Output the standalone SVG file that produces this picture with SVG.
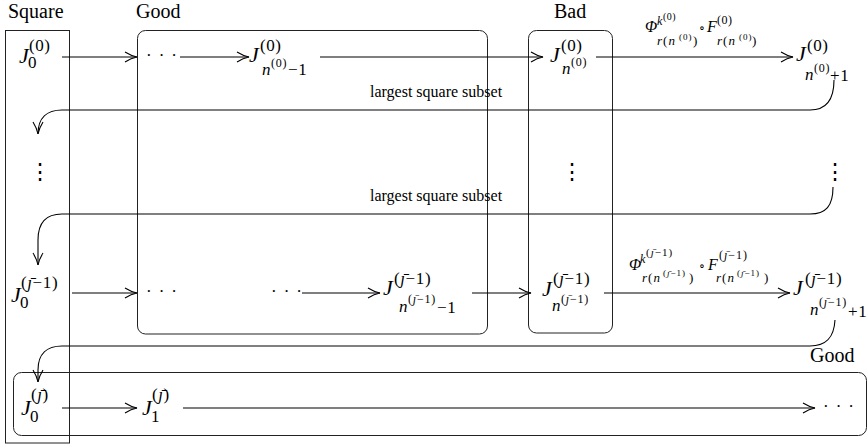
<svg xmlns="http://www.w3.org/2000/svg" width="868" height="448" viewBox="0 0 868 448">
<style>
text { font-family: "Liberation Serif", "DejaVu Serif", serif; fill: #000; }
.h { font-size: 20px; }
.lab { font-size: 16px; }
.J { font-size: 22px; font-style: italic; }
.s { font-size: 17px; letter-spacing: 0.6px; }
.ss { font-size: 12px; letter-spacing: 0.8px; }
.i { font-style: italic; }
.box { fill: none; stroke: #222; stroke-width: 1; }
.c { fill: none; stroke: #000; stroke-width: 1.1; }
.dots { font-size: 17px; letter-spacing: 7px; }
.vd { font-size: 22px; font-family: "DejaVu Serif", serif; }
.L16 { font-size: 16px; font-style: italic; }
.L12 { font-size: 12px; }
.L13 { font-size: 13px; letter-spacing: 1px; }
.L9 { font-size: 9px; letter-spacing: 1px; }
</style>
<defs>
<marker id="ah" viewBox="-13 -6 14 12" refX="0" refY="0" markerWidth="14" markerHeight="12" markerUnits="userSpaceOnUse" orient="auto">
<path d="M-12,-5 C-8,-2.5 -3,-0.6 0,0 C-3,0.6 -8,2.5 -12,5" fill="none" stroke="#000" stroke-width="1.1"/>
</marker>
</defs>

<g id="groups">
<g id="square-box"><rect class="box" x="5.5" y="30.5" width="64" height="412.5"/><text class="h" x="8" y="18">Square</text></g>
<g id="good-box"><rect class="box" x="137.5" y="30.5" width="350" height="303.5" rx="8"/><text class="h" x="136" y="18">Good</text></g>
<g id="bad-box"><rect class="box" x="528.5" y="30.5" width="84" height="302.5" rx="8"/><text class="h" x="554" y="18">Bad</text></g>
<g id="good-box-2"><rect class="box" x="13.5" y="372.5" width="853" height="63" rx="8"/><text class="h" x="810" y="362">Good</text></g>
</g>

<g id="connectors">
<line class="c" x1="62" y1="57" x2="137" y2="57" marker-end="url(#ah)"/>
<line class="c" x1="180" y1="57" x2="249" y2="57" marker-end="url(#ah)"/>
<line class="c" x1="320" y1="57" x2="543" y2="57" marker-end="url(#ah)"/>
<line class="c" x1="596" y1="57" x2="793" y2="57" marker-end="url(#ah)"/>
<line class="c" x1="72" y1="293" x2="137" y2="293" marker-end="url(#ah)"/>
<line class="c" x1="302" y1="293" x2="380" y2="293" marker-end="url(#ah)"/>
<line class="c" x1="472" y1="293" x2="531" y2="293" marker-end="url(#ah)"/>
<line class="c" x1="604" y1="293" x2="790" y2="293" marker-end="url(#ah)"/>
<line class="c" x1="62" y1="408" x2="137" y2="408" marker-end="url(#ah)"/>
<line class="c" x1="183" y1="408" x2="815" y2="408" marker-end="url(#ah)"/>
<path class="c" d="M834,80 C834,100 826,110 810,110 L62,110 C47,110 38,118 38,134" marker-end="url(#ah)"/>
<path class="c" d="M833,187 C833,206 826,214 810,214 L62,214 C47,214 38,222 38,240 L38,265" marker-end="url(#ah)"/>
<path class="c" d="M835,320 C834,338 826,346 810,346 L62,346 C47,346 38,354 38,370 L38,382" marker-end="url(#ah)"/>
<text class="lab" x="370" y="97">largest square subset</text>
<text class="lab" x="370" y="201">largest square subset</text>
<text><tspan class="L16" x="645" y="32">Φ</tspan><tspan class="i" x="657" y="25" font-size="12">k</tspan><tspan x="663" y="20" font-size="10" letter-spacing="0.5">(0)</tspan><tspan class="L13" x="657" y="45"><tspan class="i">r</tspan>(<tspan class="i">n</tspan></tspan><tspan class="L9" x="679" y="40">(0)</tspan><tspan class="L13" x="693" y="45">)</tspan><tspan class="L12" x="699" y="32">∘</tspan><tspan class="L16" x="707" y="32">F</tspan><tspan x="717" y="24" font-size="12" letter-spacing="0.5">(0)</tspan><tspan class="L13" x="717" y="45"><tspan class="i">r</tspan>(<tspan class="i">n</tspan></tspan><tspan class="L9" x="739" y="40">(0)</tspan><tspan class="L13" x="752" y="45">)</tspan></text>
<text><tspan class="L16" x="629" y="270">Φ</tspan><tspan class="i" x="640" y="263" font-size="12">k</tspan><tspan x="646" y="256" font-size="11" letter-spacing="1">(<tspan class="i">ȷ̄</tspan>−1)</tspan><tspan class="L13" x="642" y="282"><tspan class="i">r</tspan>(<tspan class="i">n</tspan></tspan><tspan class="L9" x="663" y="276">(<tspan class="i">ȷ̄</tspan>−1)</tspan><tspan class="L13" x="689" y="282">)</tspan><tspan class="L12" x="699" y="270">∘</tspan><tspan class="L16" x="708" y="270">F</tspan><tspan x="719" y="259" font-size="12" letter-spacing="1">(<tspan class="i">ȷ̄</tspan>−1)</tspan><tspan class="L13" x="716" y="282"><tspan class="i">r</tspan>(<tspan class="i">n</tspan></tspan><tspan class="L9" x="737" y="276">(<tspan class="i">ȷ̄</tspan>−1)</tspan><tspan class="L13" x="764" y="282">)</tspan></text>
</g>

<g id="n-r1-0"><text><tspan class="J" x="19" y="63">J</tspan><tspan class="s" x="29" y="51">(0)</tspan><tspan class="s" x="28" y="68">0</tspan></text></g>
<g id="n-r1-dots"><text class="dots" x="146" y="61">···</text></g>
<g id="n-r1-nm1"><text><tspan class="J" x="249" y="62">J</tspan><tspan class="s" x="260" y="51">(0)</tspan><tspan class="s i" x="262" y="75">n</tspan><tspan class="ss" x="271" y="67">(0)</tspan><tspan class="s" x="288" y="75">−1</tspan></text></g>
<g id="n-r1-n"><text><tspan class="J" x="550" y="62">J</tspan><tspan class="s" x="561" y="51">(0)</tspan><tspan class="s i" x="562" y="74">n</tspan><tspan class="ss" x="571" y="66">(0)</tspan></text></g>
<g id="n-r1-np1"><text><tspan class="J" x="796" y="61">J</tspan><tspan class="s" x="807" y="51">(0)</tspan><tspan class="s i" x="805" y="80">n</tspan><tspan class="ss" x="814" y="72">(0)</tspan><tspan class="s" x="830" y="81">+1</tspan></text></g>

<g id="n-r-vdots1"><text class="vd" x="29" y="179">⋮</text></g>
<g id="n-r-vdots2"><text class="vd" x="561" y="179">⋮</text></g>
<g id="n-r-vdots3"><text class="vd" x="824" y="179">⋮</text></g>

<g id="n-r2-0"><text><tspan class="J" x="11" y="302">J</tspan><tspan class="s" x="21" y="288">(<tspan class="i">ȷ̄</tspan>−1)</tspan><tspan class="s" x="20" y="308">0</tspan></text></g>
<g id="n-r2-dots1"><text class="dots" x="146" y="297">···</text></g>
<g id="n-r2-dots2"><text class="dots" x="271" y="297">···</text></g>
<g id="n-r2-nm1"><text><tspan class="J" x="383" y="295">J</tspan><tspan class="s" x="394" y="284">(<tspan class="i">ȷ̄</tspan>−1)</tspan><tspan class="s i" x="399" y="312">n</tspan><tspan class="ss" x="408" y="303">(<tspan class="i">ȷ̄</tspan>−1)</tspan><tspan class="s" x="437" y="313">−1</tspan></text></g>
<g id="n-r2-n"><text><tspan class="J" x="542" y="296">J</tspan><tspan class="s" x="553" y="284">(<tspan class="i">ȷ̄</tspan>−1)</tspan><tspan class="s i" x="552" y="311">n</tspan><tspan class="ss" x="561" y="303">(<tspan class="i">ȷ̄</tspan>−1)</tspan></text></g>
<g id="n-r2-np1"><text><tspan class="J" x="793" y="295">J</tspan><tspan class="s" x="805" y="284">(<tspan class="i">ȷ̄</tspan>−1)</tspan><tspan class="s i" x="810" y="315">n</tspan><tspan class="ss" x="819" y="306">(<tspan class="i">ȷ̄</tspan>−1)</tspan><tspan class="s" x="848" y="317">+1</tspan></text></g>

<g id="n-r3-0"><text><tspan class="J" x="21" y="415">J</tspan><tspan class="s" x="31" y="400">(<tspan class="i">ȷ̄</tspan>)</tspan><tspan class="s" x="30" y="422">0</tspan></text></g>
<g id="n-r3-1"><text><tspan class="J" x="142" y="415">J</tspan><tspan class="s" x="152" y="400">(<tspan class="i">ȷ̄</tspan>)</tspan><tspan class="s" x="151" y="422">1</tspan></text></g>
<g id="n-r3-dots"><text class="dots" x="823" y="412">···</text></g>
</svg>
